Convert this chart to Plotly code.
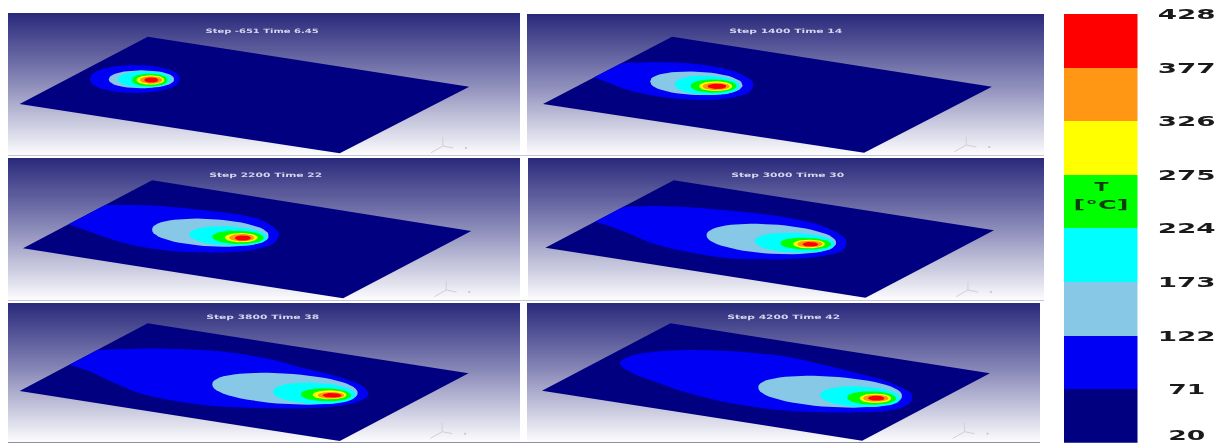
import math
import plotly.graph_objects as go

W, H = 1225, 444
ZX, ZY = 2.958, 3.0   # outlines below were read from 2.958x/3x crops of each panel

# ---- panels -------------------------------------------------------------
TITLES = ["Step -651 Time 6.45", "Step 1400 Time 14", "Step 2200 Time 22",
          "Step 3000 Time 30", "Step 3800 Time 38", "Step 4200 Time 42"]
ORIGINS = [(0, 0), (520, 0), (0, 155), (520, 155), (0, 300), (520, 300)]
RECTS = [(8, 520, 13, 155), (527, 1044, 14, 155), (8, 520, 158, 300),
         (528, 1044, 158, 300), (8, 520, 303, 442), (527, 1040, 303, 442)]
TITLE_POS = [(775, 92), (785, 92), (785, 59), (790, 59), (775, 52), (780, 52)]

PLATES = [
    [(437, 110), (1388, 260), (1005, 460), (58, 312)],
    [(450, 110), (1396, 260), (1018, 458), (68, 312)],
    [(450, 76), (1394, 228), (1015, 430), (68, 280)],
    [(455, 76), (1402, 226), (1022, 428), (75, 278)],
    [(437, 70), (1386, 220), (1005, 423), (58, 273)],
    [(445, 70), (1390, 220), (1012, 422), (65, 272)],
]

# ---- 71-122 degC band outlines ------------------------------------------
BLUE_TRACES = [
    None,
    [(300, 190), (400, 187), (500, 190), (600, 205), (660, 225), (690, 250), (680, 275),
     (640, 290), (560, 300), (480, 298), (400, 288), (320, 270), (265, 250), (219, 232)],
    [(311, 150), (400, 150), (500, 155), (600, 165), (700, 178), (780, 198), (825, 235),
     (815, 260), (770, 280), (700, 290), (600, 292), (500, 287), (400, 272), (320, 250),
     (260, 228), (203, 208)],
    [(306, 155), (400, 153), (500, 157), (600, 165), (700, 175), (800, 190), (900, 215),
     (965, 255), (955, 285), (900, 302), (800, 312), (700, 313), (600, 308), (500, 292),
     (400, 268), (320, 235), (270, 215), (222, 200)],
    [(288, 150), (400, 146), (500, 146), (600, 150), (700, 160), (800, 178), (900, 205),
     (1000, 230), (1075, 260), (1090, 285), (1060, 305), (1000, 318), (900, 325), (800, 325),
     (700, 322), (600, 315), (500, 300), (400, 275), (320, 240), (260, 212), (204, 195)],
    [(295, 190), (320, 170), (400, 155), (500, 150), (600, 152), (700, 160), (800, 172),
     (900, 195), (1000, 220), (1100, 250), (1160, 285), (1150, 312), (1090, 332), (1000, 337),
     (900, 337), (800, 333), (700, 322), (600, 305), (500, 280), (400, 245), (330, 218),
     (295, 190)],
]
BLUE_ROUND_PANEL1 = (266, 532, 400, 237, 42, 42, 0)

# ---- inner isotherms: left, right, crest x, crest y, up, down, tilt -----
LIGHTBLUE = [(322, 515, 418, 238, 27, 27, 0), (385, 658, 521, 250, 35, 35, .04),
             (450, 795, 622, 233, 41, 41, .055), (552, 935, 743, 252, 44, 44, .06),
             (628, 1058, 843, 266, 46, 46, .06), (705, 1130, 917, 275, 46, 46, .06)]
CYAN = [(349, 506, 428, 238, 25, 25, 0), (458, 650, 554, 256, 29, 29, .03),
        (560, 790, 675, 243, 29, 29, .04), (695, 930, 812, 263, 30, 30, .04),
        (808, 1052, 930, 280, 32, 32, .04), (888, 1125, 1006, 290, 31, 31, .04)]
GREEN = [(390, 496, 443, 240, 19, 19, 0), (505, 640, 572, 258, 20, 20, 0),
         (628, 780, 704, 247, 20, 20, .02), (770, 920, 845, 266, 18, 18, .02),
         (890, 1038, 964, 285, 20, 19, .02), (968, 1112, 1040, 294, 20, 20, .02)]
YELLOW = [(404, 486, 445, 240, 14, 14, 0), (530, 628, 579, 259, 15, 14, 0),
          (665, 762, 713, 248, 14, 14, 0), (808, 902, 855, 267, 13, 13, 0),
          (925, 1025, 975, 285, 14, 13, 0), (1005, 1098, 1051, 295, 14, 14, 0)]
ORANGE = [(414, 480, 447, 240, 11, 11, 0), (540, 620, 580, 259, 11, 11, 0),
          (678, 752, 715, 248, 11, 11, 0), (820, 895, 857, 267, 10, 10, 0),
          (940, 1018, 979, 286, 10, 10, 0), (1015, 1090, 1052, 295, 11, 10, 0)]
RED = [(427, 468, 447, 240, 8, 8, 0), (555, 610, 583, 259, 8, 8, 0),
       (695, 742, 718, 249, 8, 8, 0), (836, 882, 859, 268, 7, 7, 0),
       (955, 1010, 982, 286, 7, 7, 0), (1030, 1078, 1054, 295, 8, 7, 0)]

# axis triad: centre, up, left-down, right, far dot
TRIADS = [(1310, 438), (1320, 435), (1320, 405), (1325, 405), (1308, 395), (1315, 395)]

# ---- colour scale --------------------------------------------------------
LEVELS = [20, 71, 122, 173, 224, 275, 326, 377, 428]
BAND_COLORS = ["#000080", "#0000f5", "#87c8e6", "#00ffff", "#00ff00", "#ffff00", "#ff9614", "#ff0000"]
NAVY, BLUE, SKY, AQUA, LIME, YEL, ORG, REDC = BAND_COLORS


def to_page(pts, origin):
    return [p[0] / ZX + origin[0] for p in pts], [p[1] / ZY + origin[1] for p in pts]


def egg(spec):
    L, R, cx, cy, up, dn, tilt = spec
    top, bot = [], []
    n = 28
    for i in range(n + 1):
        a = math.pi * i / n
        c = -math.cos(a)
        half = (cx - L) if c < 0 else (R - cx)
        x = cx + c * half
        s = math.sin(a) ** 0.9
        top.append((x, cy + tilt * (x - cx) - up * s))
        bot.append((x, cy + tilt * (x - cx) + dn * s))
    return top + bot[::-1]


fig = go.Figure()

GRAD_STOPS = [[0, "#2a2a7c"], [0.5, "#8c8cba"], [1, "#fbfbfd"]]
for (x0, x1, y0, y1) in RECTS:
    rows = 70
    fig.add_trace(go.Heatmap(
        x=[x0, x1], y=[y0 + (y1 - y0) * i / rows for i in range(rows + 1)],
        z=[[i / (rows - 1)] for i in range(rows)], colorscale=GRAD_STOPS,
        zmin=0, zmax=1, showscale=False, hoverinfo="skip", xaxis="x", yaxis="y"))


def add_area(xs, ys, color, spline=False):
    fig.add_trace(go.Scatter(
        x=xs, y=ys, mode="lines", fill="toself", fillcolor=color,
        line=dict(width=0, color=color, shape="spline" if spline else "linear", smoothing=1.0),
        hoverinfo="skip", showlegend=False, xaxis="x", yaxis="y"))


for i, origin in enumerate(ORIGINS):
    xs, ys = to_page(PLATES[i], origin)
    add_area(xs + xs[:1], ys + ys[:1], NAVY)
    if BLUE_TRACES[i] is None:
        add_area(*to_page(egg(BLUE_ROUND_PANEL1), origin), BLUE)
    else:
        add_area(*to_page(BLUE_TRACES[i], origin), BLUE, spline=True)
    for table, color in ((LIGHTBLUE, SKY), (CYAN, AQUA), (GREEN, LIME),
                         (YELLOW, YEL), (ORANGE, ORG), (RED, REDC)):
        add_area(*to_page(egg(table[i]), origin), color)
    # triad
    cx, cy = TRIADS[i]
    for dx, dy in ((0, -26), (-35, 20), (30, 6)):
        tx, ty = to_page([(cx, cy), (cx + dx, cy + dy)], origin)
        fig.add_trace(go.Scatter(x=tx, y=ty, mode="lines", line=dict(color="#d6ccd8", width=1),
                                 hoverinfo="skip", showlegend=False, xaxis="x", yaxis="y"))
    tx, ty = to_page([(cx + 68, cy + 6)], origin)
    fig.add_trace(go.Scatter(x=tx, y=ty, mode="markers", marker=dict(color="#c8bccc", size=2),
                             hoverinfo="skip", showlegend=False, xaxis="x", yaxis="y"))

# colour scale bars
for k, color in enumerate(BAND_COLORS):
    fig.add_trace(go.Bar(x=["T"], y=[LEVELS[k + 1] - LEVELS[k]], base=[LEVELS[k]], width=[1],
                         marker=dict(color=color, line=dict(width=0)),
                         hoverinfo="skip", showlegend=False, xaxis="x2", yaxis="y2"))

annotations = []
for i, origin in enumerate(ORIGINS):
    tx, ty = TITLE_POS[i]
    annotations.append(dict(text=TITLES[i], x=tx / ZX + origin[0], y=ty / ZY + origin[1],
                            xref="x", yref="y", showarrow=False,
                            font=dict(family="DejaVu Sans", size=6, color="#d6d6ee", weight="bold")))
for v in LEVELS:
    annotations.append(dict(text=str(v), x=1186.5 / W, y=v, xref="paper", yref="y2", showarrow=False,
                            xanchor="center", yanchor="middle", yshift=8 if v == LEVELS[0] else 0,
                            font=dict(family="DejaVu Sans", size=14, color="#1a1a1a", weight="bold")))
annotations.append(dict(text="T", x=1101 / W, y=(275 + 224) / 2 + 14, xref="paper", yref="y2",
                        xanchor="center", showarrow=False,
                        font=dict(family="DejaVu Sans", size=13, color="#0b3d0b", weight="bold")))
annotations.append(dict(text="[°C]", x=1101 / W, y=(275 + 224) / 2 - 3, xref="paper", yref="y2",
                        xanchor="center", showarrow=False,
                        font=dict(family="DejaVu Sans", size=13, color="#0b3d0b", weight="bold")))

# thin rules under the panels
RULES = [(8, 1044, 155.5, "#c6c6da"), (8, 1044, 300.5, "#c6c6da"), (8, 1040, 442.5, "#8e8ea6")]
shapes = [dict(type="line", xref="x", yref="y", x0=a, x1=b, y0=y, y1=y, layer="above",
               line=dict(color=c, width=1)) for a, b, y, c in RULES]

fig.update_layout(
    width=W, height=H, margin=dict(l=0, r=0, t=0, b=0),
    paper_bgcolor="white", plot_bgcolor="rgba(0,0,0,0)",
    barmode="overlay", bargap=0, showlegend=False, annotations=annotations, shapes=shapes,
    xaxis=dict(domain=[0, 1], range=[0, W], visible=False, fixedrange=True),
    yaxis=dict(domain=[0, 1], range=[H, 0], visible=False, fixedrange=True),
    xaxis2=dict(domain=[1063.5 / W, 1137.5 / W], visible=False, anchor="y2", fixedrange=True),
    yaxis2=dict(domain=[1 - 442.7 / H, 1 - 14 / H], range=[20, 428], visible=False, anchor="x2", fixedrange=True),
)

# the reference is a horizontally stretched, slightly soft picture
PAGE_SCRIPT = """
document.body.style.margin = '0';
document.body.style.overflow = 'hidden';
var gd = document.querySelector('.plotly-graph-div');
gd.style.filter = 'blur(0.7px)';
document.querySelectorAll('.annotation-text').forEach(function (t) {
  var s = t.textContent, w = 0;
  if (/^Step/.test(s)) w = 113;
  else if (/^\\d{3}$/.test(s)) w = 58;
  else if (/^\\d{2}$/.test(s)) w = 37;
  else if (s === 'T') w = 14;
  else if (s.indexOf('C') > -1) w = 55;
  if (w) { t.setAttribute('textLength', w); t.setAttribute('lengthAdjust', 'spacingAndGlyphs'); }
});
"""
fig.write_html("out.html", post_script=PAGE_SCRIPT, config={"displayModeBar": False})
